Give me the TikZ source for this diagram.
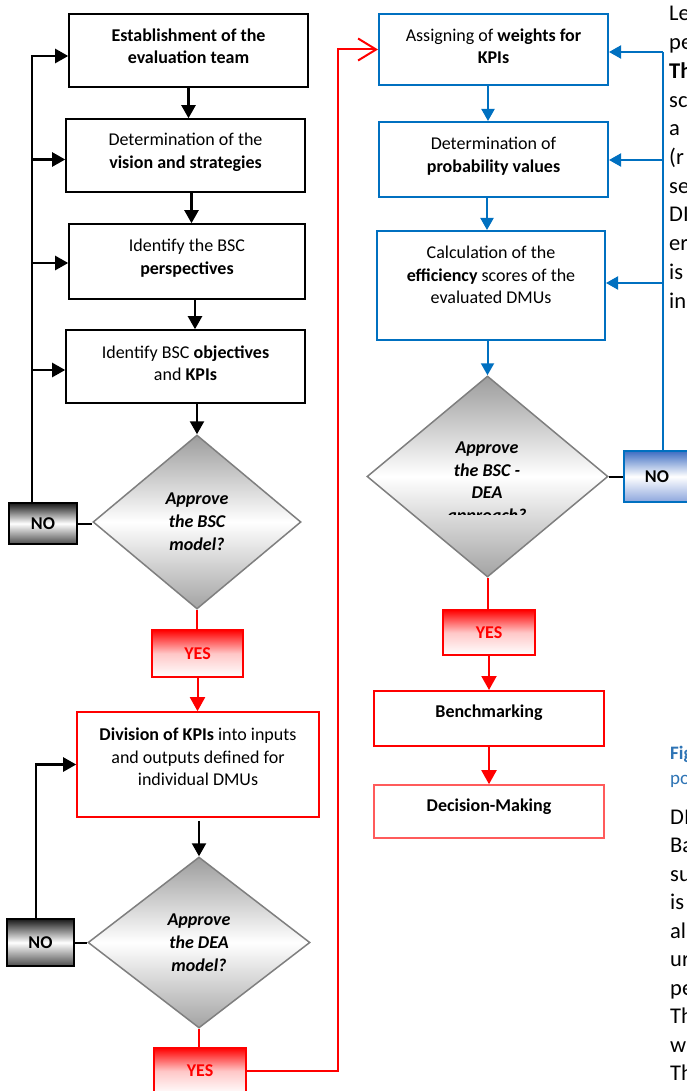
\documentclass[tikz,border=0pt]{standalone}
\usepackage{fontspec}
\setmainfont{Carlito}
\usetikzlibrary{shapes.geometric,arrows.meta,calc}
\definecolor{bl}{HTML}{0070C0}
\definecolor{capblue}{HTML}{2E74B5}
\definecolor{lred}{HTML}{FF5B5B}
\definecolor{dgray}{HTML}{7F7F7F}
\definecolor{dtop}{HTML}{9C9C9C}
\definecolor{dbot}{HTML}{A3A3A3}
\definecolor{nbtop}{HTML}{3E6DC2}
\definecolor{nbbot}{HTML}{8CA6DD}
\begin{document}
\begin{tikzpicture}[x=1pt,y=-1pt,
  every node/.style={inner sep=0pt},
  bx/.style={draw=black, line width=1.6pt, fill=white},
  bxb/.style={draw=bl, line width=2pt, fill=white},
  bxr/.style={draw=red, line width=1.8pt, fill=white},
  txt/.style={align=center, font=\fontsize{18}{22.5}\selectfont},
  txtb/.style={align=center, font=\fontsize{18}{22.5}\selectfont\bfseries},
  dtxt/.style={align=center, font=\fontsize{18}{22.8}\selectfont\bfseries\itshape},
  dia/.style={diamond, draw=dgray, line width=1.5pt, top color=dtop, bottom color=dbot, middle color=white},
  nobox/.style={draw=black, line width=2pt, top color=black!90, bottom color=black!70, middle color=white, font=\fontsize{18}{22}\selectfont\bfseries},
  nobluebox/.style={draw=bl, line width=2pt, top color=nbtop, bottom color=nbbot, middle color=white, font=\fontsize{18}{22}\selectfont\bfseries},
  yesbox/.style={draw=red, line width=2pt, top color=red, bottom color=white, middle color=red!22, text=red, font=\fontsize{18}{22}\selectfont\bfseries},
  blk/.style={draw=black, line width=2.4pt},
  blkarr/.style={blk, -{Triangle[width=14pt,length=13pt]}},
  blu/.style={draw=bl, line width=2pt},
  bluarr/.style={blu, -{Triangle[width=13pt,length=12pt]}},
  rd/.style={draw=red, line width=2pt},
  rdarr/.style={rd, -{Triangle[width=15pt,length=14pt]}},
  bodytxt/.style={anchor=base west, font=\fontsize{22.5}{28.7}\selectfont},
  captxt/.style={anchor=base west, text=capblue, font=\fontsize{19}{25}\selectfont},
]
\useasboundingbox (0,0) rectangle (686,1091);
\fill[white] (0,0) rectangle (686,1091);

% ---------- left column ----------
\node[bx, minimum width=239pt, minimum height=73pt] (b1) at (188.5,50.5) {};
\node[txtb] (b1t) at ([yshift=4pt]b1.center) {Establishment of the\\evaluation team};
\node[bx, minimum width=239pt, minimum height=73pt] (b2) at (185.5,155.5) {};
\node[txt] (b2t) at ([yshift=3pt]b2.center) {Determination of the\\\textbf{vision and strategies}};
\node[bx, minimum width=236pt, minimum height=75pt] (b3) at (187,261.5) {};
\node[txt] (b3t) at ([yshift=3.5pt]b3.center) {Identify the BSC\\\textbf{perspectives}};
\node[bx, minimum width=239pt, minimum height=73pt] (b4) at (185.5,366.5) {};
\node[txt] (b4t) at ([yshift=3.5pt]b4.center) {Identify BSC \textbf{objectives}\\and \textbf{KPIs}};

\node[dia, minimum width=208pt, minimum height=174pt] (d1) at (197,522) {};
\node[dtxt] (d1t) at (d1.center) {Approve\\the BSC\\model?};
\node[nobox, minimum width=68pt, minimum height=41pt] (no1) at (43,523.5) {NO};
\node[yesbox, minimum width=91pt, minimum height=47pt] (yes1) at (197.5,653.5) {YES};

\node[bxr, line width=1.6pt, minimum width=242pt, minimum height=105pt] (b5) at (198,764.5) {};
\node[txt] (b5t) at ([yshift=7.5pt]b5.center) {\textbf{Division of KPIs} into inputs\\and outputs defined for\\individual DMUs};

\node[dia, minimum width=222pt, minimum height=171pt] (d2) at (199,942.5) {};
\node[dtxt] (d2t) at (d2.center) {Approve\\the DEA\\model?};
\node[nobox, minimum width=67pt, minimum height=47pt] (no2) at (40.5,942.5) {NO};
\node[yesbox, minimum width=92pt, minimum height=46pt] (yes2) at (200,1071) {YES};

% ---------- right column ----------
\node[bxb, minimum width=229pt, minimum height=71pt] (b6) at (493.5,49.5) {};
\node[txt] (b6t) at ([yshift=3pt]b6.center) {Assigning of \textbf{weights for}\\\textbf{KPIs}};
\node[bxb, minimum width=229pt, minimum height=75pt] (b7) at (493.5,159.5) {};
\node[txt] (b7t) at ([yshift=3.5pt]b7.center) {Determination of\\\textbf{probability values}};
\node[bxb, minimum width=228pt, minimum height=109pt] (b8) at (491,285.5) {};
\node[txt] (b8t) at ([yshift=10.5pt]b8.center) {Calculation of the\\\textbf{efficiency} scores of the\\evaluated DMUs};

\node[dia, minimum width=241pt, minimum height=201pt] (d3) at (487.5,476.5) {};
\begin{scope}
\clip (370,380) rectangle (600,514);
\node[dtxt] (d3t) at (487,483) {Approve\\the BSC -\\DEA\\approach?};
\end{scope}
\node[nobluebox, minimum width=66pt, minimum height=51pt] (no3) at (657,476.5) {NO};
\node[yesbox, minimum width=92pt, minimum height=45pt] (yes3) at (489,632.5) {YES};

\node[bxr, line width=2pt, minimum width=230pt, minimum height=55pt] (b9) at (489,718.5) {};
\node[txtb] (b9t) at ([yshift=5.5pt]b9.center) {Benchmarking};
\node[draw=lred, line width=1.6pt, fill=white, minimum width=230pt, minimum height=53pt] (b10) at (489,811.5) {};
\node[txtb] (b10t) at ([yshift=4.5pt]b10.center) {Decision-Making};

% ---------- connectors: left ----------
\draw[blkarr] (b1.south) -- (b1.south |- b2.north);
\draw[blkarr] ([xshift=6pt]b2.south) -- ([xshift=6pt]b2.south |- b3.north);
\draw[blkarr] ([xshift=8pt]b3.south) -- ([xshift=8pt]b3.south |- b4.north);
\draw[blkarr] (d1.north |- b4.south) -- (d1.north);
\coordinate (L) at (32,56);
\draw[blk] (no1.north -| L) -- (L);
\draw[blkarr] ([xshift=-1.2pt]L) -- (L -| b1.west);
\draw[blkarr] ($(b2.west -| L)+(0,4)$) -- ($(b2.west)+(0,4)$);
\draw[blkarr] ($(b3.west -| L)+(0,1.5)$) -- ($(b3.west)+(0,1.5)$);
\draw[blkarr] ($(b4.west -| L)+(0,3.5)$) -- ($(b4.west)+(0,3.5)$);
\draw[blk, line width=2pt] (no1.east) -- (no1.east -| d1.west);
\draw[rd] (d1.south) -- (d1.south |- yes1.north);
\draw[rdarr] (yes1.south) -- (yes1.south |- b5.north);
\draw[blkarr] ([yshift=-3pt]b5.south -| d2.north) -- (d2.north);
\draw[blk, line width=2pt] (no2.east) -- (d2.west);
\draw[blkarr] ([xshift=-4.5pt]no2.north) |- (b5.west);
\draw[rd] (d2.south) -- (d2.south |- yes2.north);
\coordinate (RC) at (338,0);
\draw[rd, -{Straight Barb[length=18pt,width=22pt]}] (yes2.east) -| (RC |- b6.west) -- (b6.west);

% ---------- connectors: right ----------
\draw[bluarr] ([xshift=-5.5pt]b6.south) -- ([xshift=-5.5pt]b6.south |- b7.north);
\draw[bluarr] ([xshift=-6.5pt]b7.south) -- ([xshift=-6.5pt]b7.south |- b8.north);
\draw[bluarr] (b8.south -| d3.north) -- (d3.north);
\coordinate (RB) at (663,52);
\draw[blu] ([xshift=6pt]no3.north) -- (RB);
\draw[bluarr] (RB) -- (RB -| b6.east);
\draw[bluarr] ($(b7.east -| RB)+(0,0.5)$) -- ($(b7.east)+(0,0.5)$);
\draw[bluarr] ($(b8.east -| RB)+(0,-2.5)$) -- ($(b8.east)+(0,-2.5)$);
\draw[blk, line width=2pt] (d3.east) -- (no3.west);
\draw[rd] (d3.south) -- (d3.south |- yes3.north);
\draw[rdarr] (yes3.south) -- (yes3.south |- b9.north);
\draw[rdarr] (b9.south) -- (b10.north);

% ---------- clipped page text at the right edge ----------
\foreach \t [count=\i] in {Le,pe,\textbf{Th},sc,a,{(r},se,DI,er,is,in}
  \node[bodytxt] (ra\i) at (669,{21+28.7*(\i-1)}) {\t};
\node[captxt, font=\fontsize{19}{25}\selectfont\bfseries] (cf1) at (670,759) {Fig};
\node[captxt] (cf2) at (670,784) {po};
\foreach \t [count=\i] in {DI,Ba,su,is,al,ur,pe,Th,w,Th}
  \node[bodytxt] (rb\i) at (670,{824+28.5*(\i-1)}) {\t};
\end{tikzpicture}
\end{document}
